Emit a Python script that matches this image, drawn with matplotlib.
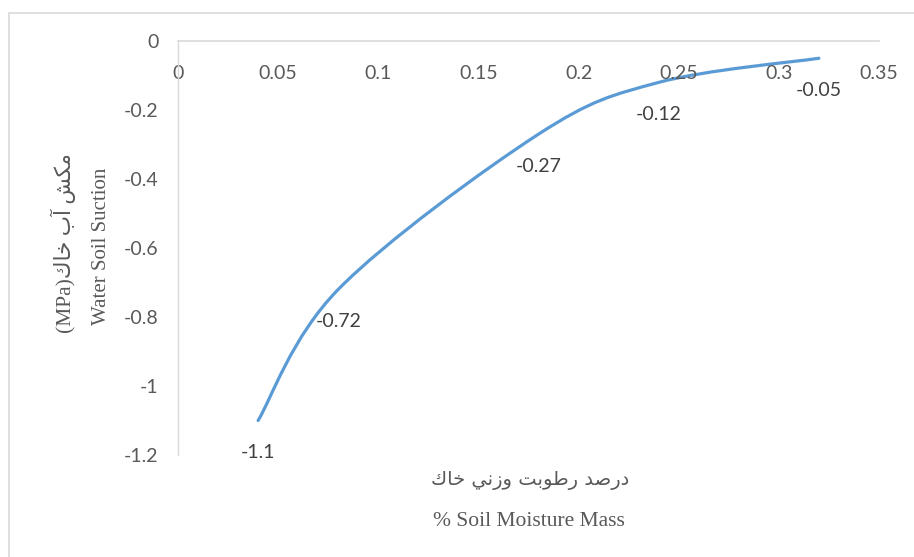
import matplotlib
matplotlib.use("Agg")
import matplotlib.pyplot as plt
from matplotlib.path import Path
from matplotlib.patches import PathPatch, Rectangle

# ---- data ----
moisture = [0.04, 0.08, 0.18, 0.24, 0.32]
suction = [-1.1, -0.72, -0.27, -0.12, -0.05]
point_labels = ["-1.1", "-0.72", "-0.27", "-0.12", "-0.05"]
x_ticks = [0, 0.05, 0.1, 0.15, 0.2, 0.25, 0.3, 0.35]
x_tick_labels = ["0", "0.05", "0.1", "0.15", "0.2", "0.25", "0.3", "0.35"]
y_ticks = [0, -0.2, -0.4, -0.6, -0.8, -1.0, -1.2]
y_tick_labels = ["0", "-0.2", "-0.4", "-0.6", "-0.8", "-1", "-1.2"]

# Persian labels, written with Arabic presentation forms in visual order
# logical: "درصد رطوبت وزنی خاک"
x_label_fa_logical = ("\uFEA9\uFEAD\uFEBB\uFEAA \uFEAD\uFEC3\uFEEE\uFE91\uFE96 "
                      "\uFEED\uFEAF\uFEE7\uFEF2 \uFEA7\uFE8E\uFED9")
x_label_fa = x_label_fa_logical[::-1]
x_label_en = "% Soil Moisture Mass"
# logical: "مکش آب خاک(MPa)"
y_label_fa_logical = "\uFEE3\uFEDC\uFEB6 \uFE81\uFE8F \uFEA7\uFE8E\uFED9"
y_label_fa = "(MPa)" + y_label_fa_logical[::-1]
y_label_en = "Water Soil Suction"

W, H = 914, 557
fig = plt.figure(figsize=(W / 100, H / 100), dpi=100)
fig.patch.set_facecolor("white")

# chart-area border (extends beyond the right and bottom edges)
fig.patches.append(Rectangle((9 / W, -0.1), 1.2, 1 - 13 / H + 0.1,
                             transform=fig.transFigure, fill=False,
                             edgecolor="#d9d9d9", linewidth=1.2))

left, right = 178 / W, 879 / W
top, bottom = 1 - 41 / H, 1 - 455 / H
ax = fig.add_axes([left, bottom, right - left, top - bottom])
ax.set_xlim(0, 0.35)
ax.set_ylim(-1.2, 0)

for s in ["right", "top"]:
    ax.spines[s].set_visible(False)
ax.spines["bottom"].set_position(("data", 0))
ax.spines["bottom"].set_color("#d9d9d9")
ax.spines["left"].set_color("#d9d9d9")
ax.spines["bottom"].set_linewidth(1.2)
ax.spines["left"].set_linewidth(1.0)

tick_font = dict(family="Lato", size=14, color="#595959")
ax.set_xticks(x_ticks)
ax.set_xticklabels(x_tick_labels, **tick_font)
ax.set_yticks(y_ticks)
ax.set_yticklabels(y_tick_labels, **tick_font)
ax.tick_params(axis="x", length=0, pad=17)
ax.tick_params(axis="y", length=0, pad=14)

# smoothed line (Catmull-Rom style Bezier, like Excel's smooth line)
pts = list(zip(moisture, suction))
verts = [pts[0]]
codes = [Path.MOVETO]
n = len(pts)
for i in range(n - 1):
    p0 = pts[i - 1] if i > 0 else pts[i]
    p1 = pts[i]
    p2 = pts[i + 1]
    p3 = pts[i + 2] if i + 2 < n else pts[i + 1]
    c1 = (p1[0] + (p2[0] - p0[0]) / 6, p1[1] + (p2[1] - p0[1]) / 6)
    c2 = (p2[0] - (p3[0] - p1[0]) / 6, p2[1] - (p3[1] - p1[1]) / 6)
    verts += [c1, c2, p2]
    codes += [Path.CURVE4] * 3
ax.add_patch(PathPatch(Path(verts, codes), fill=False, edgecolor="#5B9BD5",
                       linewidth=2.3, capstyle="round", joinstyle="round"))

for xv, yv, lab in zip(moisture, suction, point_labels):
    ax.annotate(lab, (xv, yv), xytext=(0, -32), textcoords="offset pixels",
                ha="center", va="center", family="Lato", size=14,
                color="#404040")

serif = ["Liberation Serif", "DejaVu Sans"]
fig.text(530 / W, 1 - 481 / H, x_label_fa, ha="center", va="center",
         family=["DejaVu Sans"], size=14, color="#595959")
fig.text(529 / W, 1 - 522 / H, x_label_en, ha="center", va="center",
         family=serif, size=15.5, color="#595959")
fig.text(63 / W, 1 - 243 / H, y_label_fa, ha="center", va="center",
         rotation=90, family=serif, size=15.5, color="#595959")
fig.text(101 / W, 1 - 246 / H, y_label_en, ha="center", va="center",
         rotation=90, family=serif, size=15, color="#595959")

fig.savefig("out.png", dpi=100)
